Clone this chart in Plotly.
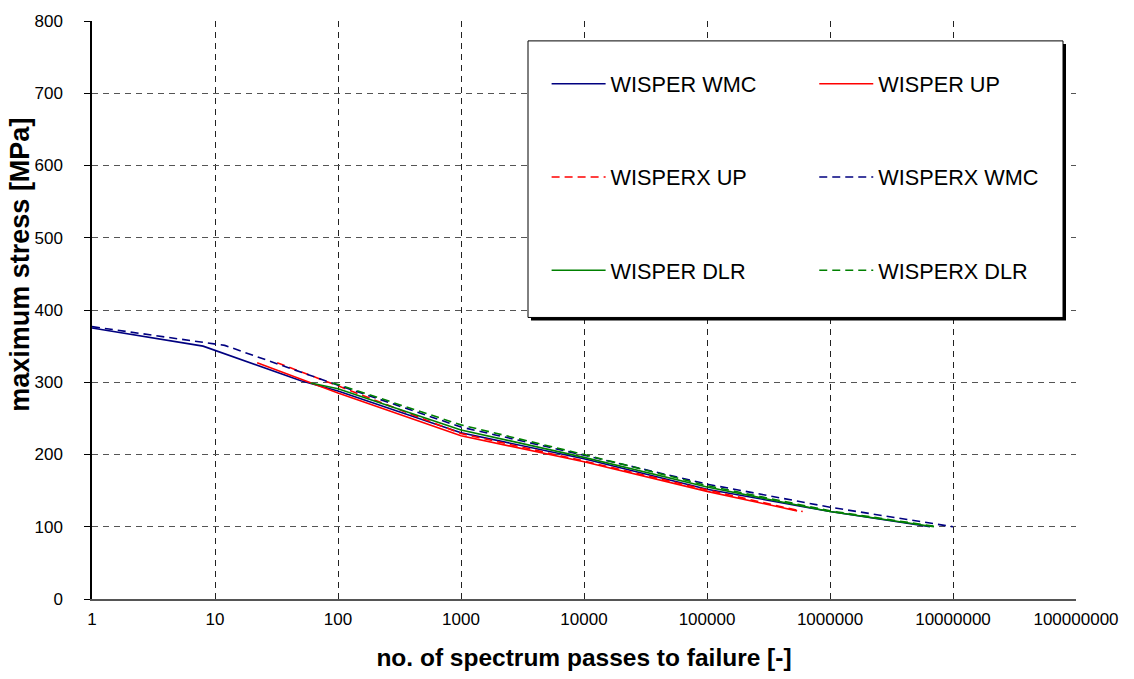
import plotly.graph_objects as go

# ---- data ----
wmc_x = [1, 8, 50, 100, 1000, 10000, 100000, 1000000, 6500000]
wmc_y = [375, 350, 302, 288, 230, 194, 152, 121, 100]

up_x = [22, 100, 1000, 10000, 100000, 540000]
up_y = [327, 285, 226, 190, 149, 122]

upx_x = [32, 100, 1000, 10000, 100000, 600000]
upx_y = [327, 295, 229, 191, 151, 121]

wmcx_x = [1, 10, 12, 100, 1000, 10000, 100000, 1000000, 10000000]
wmcx_y = [377, 353, 351, 296, 238, 199, 159, 127, 100]

dlr_x = [60, 100, 1000, 10000, 100000, 1000000, 7000000]
dlr_y = [299, 291, 234, 196, 155, 121, 100]

dlrx_x = [90, 100, 1000, 10000, 100000, 1000000, 7500000]
dlrx_y = [299, 297, 241, 200, 157, 122, 100]

x_tickvals = [1, 10, 100, 1000, 10000, 100000, 1000000, 10000000, 100000000]
x_ticktext = ["1", "10", "100", "1000", "10000", "100000", "1000000", "10000000", "100000000"]
y_tickvals = [0, 100, 200, 300, 400, 500, 600, 700, 800]

NAVY = "#000080"
RED = "#FF0000"
GREEN = "#008000"
DASH = "8px,5px"

series = [
    ("WISPER WMC", wmc_x, wmc_y, NAVY, "solid", "legend"),
    ("WISPER UP", up_x, up_y, RED, "solid", "legend2"),
    ("WISPERX UP", upx_x, upx_y, RED, DASH, "legend"),
    ("WISPERX WMC", wmcx_x, wmcx_y, NAVY, DASH, "legend2"),
    ("WISPER DLR", dlr_x, dlr_y, GREEN, "solid", "legend"),
    ("WISPERX DLR", dlrx_x, dlrx_y, GREEN, DASH, "legend2"),
]

fig = go.Figure()
for name, xs, ys, col, dash, leg in series:
    fig.add_trace(go.Scatter(
        x=xs, y=ys, mode="lines", name=name, legend=leg, legendgroup=name,
        line=dict(color=col, width=1.6, dash=dash),
    ))

FONT = "Arial, Liberation Sans, sans-serif"
LEGFONT = dict(size=21.7, family=FONT)

fig.update_layout(
    width=1134, height=679,
    margin=dict(l=92, r=58, t=18, b=80),
    paper_bgcolor="white", plot_bgcolor="white",
    font=dict(family=FONT, color="black", size=17),
    legend=dict(x=0.462, y=0.927, xanchor="left", yanchor="top",
                bgcolor="rgba(0,0,0,0)", tracegroupgap=62,
                font=LEGFONT, itemwidth=54),
    legend2=dict(x=0.734, y=0.927, xanchor="left", yanchor="top",
                 bgcolor="rgba(0,0,0,0)", tracegroupgap=62,
                 font=LEGFONT, itemwidth=54),
    shapes=[
        dict(type="rect", xref="paper", yref="paper",
             x0=(531 - 92) / 984, x1=(1066 - 92) / 984,
             y0=(599 - 319) / 581, y1=(599 - 41) / 581,
             fillcolor="black", line=dict(width=0), layer="above"),
        dict(type="rect", xref="paper", yref="paper",
             x0=(528 - 92) / 984, x1=(1063 - 92) / 984,
             y0=(599 - 316) / 581, y1=(599 - 38) / 581,
             fillcolor="white", line=dict(color="black", width=1), layer="above"),
    ],
    annotations=[
        dict(text="<b>maximum stress [MPa]</b>", textangle=-90,
             xref="paper", yref="paper", x=(20 - 92) / 984, y=(599 - 263) / 581,
             xanchor="center", yanchor="middle", showarrow=False,
             font=dict(size=27, family=FONT, color="black")),
    ],
)

fig.update_xaxes(
    type="log", range=[0, 8],
    tickvals=x_tickvals, ticktext=x_ticktext,
    showgrid=True, gridcolor="#222222", griddash="6px,5px", gridwidth=1,
    showline=True, linecolor="#555555", linewidth=2,
    ticks="", zeroline=False, ticklabelstandoff=4,
    tickfont=dict(size=17, family=FONT),
    title=dict(text="<b>no. of spectrum passes to failure [-]</b>",
               font=dict(size=24.5, family=FONT), standoff=20),
)
fig.update_yaxes(
    range=[0, 800], tickvals=y_tickvals,
    showgrid=True, gridcolor="#555555", griddash="6px,5px", gridwidth=1,
    showline=True, linecolor="black", linewidth=1.5,
    ticks="outside", ticklen=6, tickcolor="black",
    zeroline=False, ticklabelstandoff=18,
    tickfont=dict(size=17, family=FONT),
)

fig.write_html("out.html")
